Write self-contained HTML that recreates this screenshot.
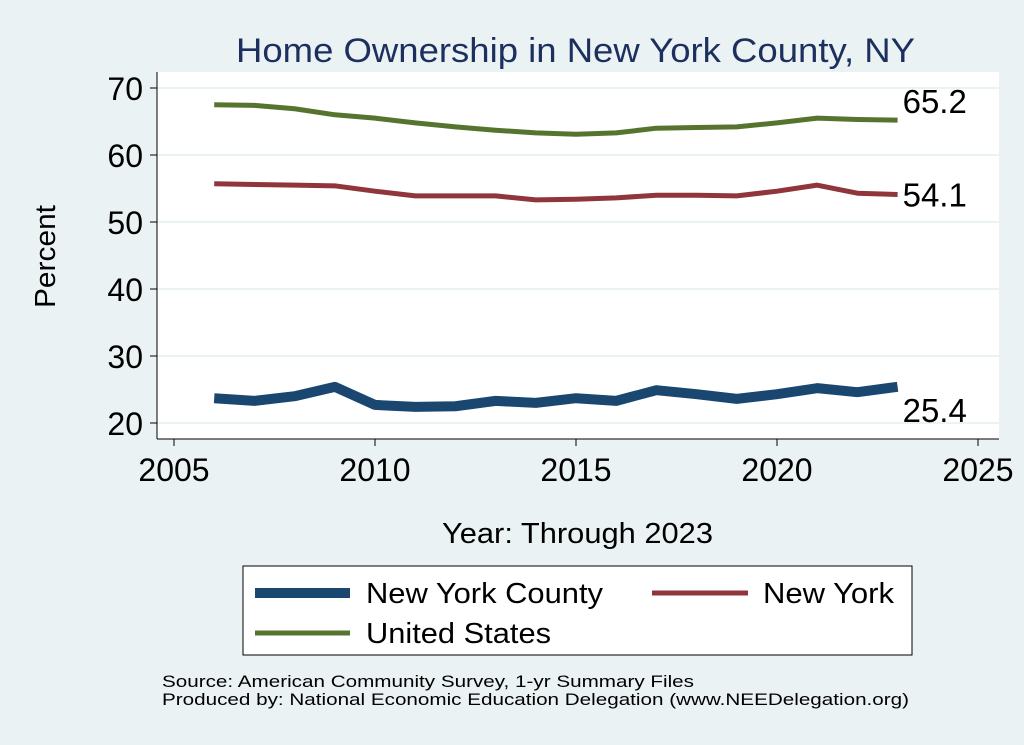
<!DOCTYPE html>
<html><head><meta charset="utf-8"><style>
body{margin:0;background:#eaf2f3;font-family:"Liberation Sans",sans-serif;}
svg{display:block}
</style></head><body>
<svg width="1024" height="745" viewBox="0 0 1024 745">
<rect x="0" y="0" width="1024" height="745" fill="#eaf2f3"/>
<text x="236" y="62" textLength="679" lengthAdjust="spacingAndGlyphs" font-size="34" fill="#1c2f5e">Home Ownership in New York County, NY</text>
<rect x="157" y="72" width="842" height="367" fill="#fff"/>
<g id="grid"></g>
<g id="axes"></g>
<g id="series"></g>
<text transform="translate(55,308) rotate(-90)" textLength="103" lengthAdjust="spacingAndGlyphs" font-size="29" fill="#000">Percent</text>
<text x="442" y="543" textLength="271" lengthAdjust="spacingAndGlyphs" font-size="29" fill="#000">Year: Through 2023</text>
<g>
<rect x="243" y="566" width="669" height="89" fill="#fff" stroke="#000" stroke-width="1"/>
<line x1="255" y1="593" x2="350" y2="593" stroke="#1a476f" stroke-width="10"/>
<text x="366" y="603" textLength="237" lengthAdjust="spacingAndGlyphs" font-size="29">New York County</text>
<line x1="652" y1="593" x2="748" y2="593" stroke="#90353b" stroke-width="5"/>
<text x="763" y="603" textLength="131" lengthAdjust="spacingAndGlyphs" font-size="29">New York</text>
<line x1="255" y1="633" x2="350" y2="633" stroke="#55752f" stroke-width="5"/>
<text x="366" y="643" textLength="185" lengthAdjust="spacingAndGlyphs" font-size="29">United States</text>
</g>
<text x="162" y="687" textLength="532" lengthAdjust="spacingAndGlyphs" font-size="17">Source: American Community Survey, 1-yr Summary Files</text>
<text x="162" y="705" textLength="747" lengthAdjust="spacingAndGlyphs" font-size="17">Produced by: National Economic Education Delegation (www.NEEDelegation.org)</text>
</svg>
<script>
const years=[2006,2007,2008,2009,2010,2011,2012,2013,2014,2015,2016,2017,2018,2019,2020,2021,2022,2023];
const nyCounty=[23.7,23.3,24.0,25.4,22.7,22.4,22.5,23.3,23.0,23.7,23.3,24.9,24.3,23.6,24.3,25.2,24.6,25.4];
const newYork=[55.7,55.6,55.5,55.4,54.6,53.9,53.9,53.9,53.3,53.4,53.6,54.0,54.0,53.9,54.6,55.5,54.3,54.1];
const unitedStates=[67.5,67.4,66.9,66.0,65.5,64.8,64.2,63.7,63.3,63.1,63.3,64.0,64.1,64.2,64.8,65.5,65.3,65.2];
const yTicks=[20,30,40,50,60,70];
const xTicks=[2005,2010,2015,2020,2025];
const NS='http://www.w3.org/2000/svg';
const X=v=>174+(v-2005)*(978-174)/20;
const Y=v=>423-(v-20)*(423-88)/50;
function mk(t,a,p){const e=document.createElementNS(NS,t);for(const k in a)e.setAttribute(k,a[k]);p.appendChild(e);return e;}
const grid=document.getElementById('grid'),axes=document.getElementById('axes'),ser=document.getElementById('series');
yTicks.forEach(t=>{
 const g=mk('line',{x1:157,x2:999,y1:Y(t),y2:Y(t),stroke:'#eaf2f3','stroke-width':2},grid);
 
 
 mk('line',{x1:150,x2:157,y1:Y(t),y2:Y(t),stroke:'#000','stroke-width':1},axes);
 const l=mk('text',{x:143,y:Y(t)+12,'text-anchor':'end','font-size':32},axes);l.textContent=t;
 
 
});
xTicks.forEach(t=>{
 mk('line',{x1:X(t),x2:X(t),y1:439,y2:446,stroke:'#000','stroke-width':1},axes);
 const l=mk('text',{x:X(t),y:481,'text-anchor':'middle','font-size':32},axes);l.textContent=t;
 
 
});
mk('line',{x1:157,x2:157,y1:72,y2:439,stroke:'#000','stroke-width':1},axes);
mk('line',{x1:157,x2:999,y1:439,y2:439,stroke:'#000','stroke-width':1},axes);
function series(vals,color,w,name,labDy){
 const p=mk('polyline',{points:vals.map((v,i)=>X(years[i])+','+Y(v)).join(' '),fill:'none',stroke:color,'stroke-width':w,'stroke-linejoin':'round'},ser);
 
 
 const last=vals[vals.length-1];
 const l=mk('text',{x:X(years[years.length-1])+5,y:Y(last)+labDy,'font-size':33},ser);l.textContent=last.toFixed(1);
 
 
}
series(nyCounty,'#1a476f',10,'new-york-county',35);
series(newYork,'#90353b',5,'new-york',12);
series(unitedStates,'#55752f',5,'united-states',-7);
</script>
</body></html>
